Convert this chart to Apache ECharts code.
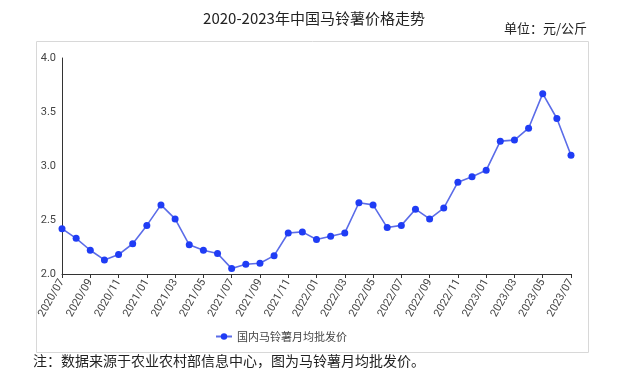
<!DOCTYPE html>
<html>
<head>
<meta charset="utf-8">
<script src="https://cdn.jsdelivr.net/npm/echarts@6/dist/echarts.min.js"></script>
<style>
  html, body { margin: 0; padding: 0; background: #fff; }
  #chart { width: 628px; height: 376px; }
</style>
</head>
<body>
<div id="chart"></div>
<script>
// months 2020/07 .. 2023/07
var months = [
  '2020/07', '2020/08', '2020/09', '2020/10', '2020/11', '2020/12',
  '2021/01', '2021/02', '2021/03', '2021/04', '2021/05', '2021/06',
  '2021/07', '2021/08', '2021/09', '2021/10', '2021/11', '2021/12',
  '2022/01', '2022/02', '2022/03', '2022/04', '2022/05', '2022/06',
  '2022/07', '2022/08', '2022/09', '2022/10', '2022/11', '2022/12',
  '2023/01', '2023/02', '2023/03', '2023/04', '2023/05', '2023/06',
  '2023/07'
];
var prices = [
  2.42, 2.33, 2.22, 2.13, 2.18, 2.28,
  2.45, 2.64, 2.51, 2.27, 2.22, 2.19,
  2.05, 2.09, 2.10, 2.17, 2.38, 2.39,
  2.32, 2.35, 2.38, 2.66, 2.64, 2.43,
  2.45, 2.60, 2.51, 2.61, 2.85, 2.90,
  2.96, 3.23, 3.24, 3.35, 3.67, 3.44,
  3.10
];
var yTicks = [2.0, 2.5, 3.0, 3.5, 4.0];

var titleText = '2020-2023年中国马铃薯价格走势';
var unitText = '单位：元/公斤';
var noteText = '注：数据来源于农业农村部信息中心，图为马铃薯月均批发价。';
var seriesName = '国内马铃薯月均批发价';

var cjk = '"Noto Sans CJK SC", "Noto Sans", sans-serif';

var chart = echarts.init(document.getElementById('chart'));

chart.setOption({
  animation: false,
  title: [
    {
      text: titleText, left: 'center', top: 6,
      textStyle: { fontFamily: cjk, fontSize: 15, fontWeight: 'normal', color: '#222' }
    },
    {
      text: unitText, right: 36, top: 17,
      textStyle: { fontFamily: cjk, fontSize: 13, fontWeight: 'normal', color: '#222' }
    }
  ],
  graphic: [
    {
      type: 'rect', left: 34, top: 39, silent: true,
      shape: { width: 552, height: 311 },
      style: { fill: 'none', stroke: '#d8d8d8', lineWidth: 1 }
    },
    {
      type: 'text', left: 33, top: 354,
      style: { text: noteText, font: '14px ' + cjk, fill: '#222' }
    }
  ],
  legend: {
    left: 210, top: 326,
    itemWidth: 16, itemHeight: 8, itemGap: 6,
    textStyle: { fontFamily: cjk, fontSize: 11, color: '#444' },
    data: [seriesName]
  },
  grid: { left: 62, right: 57, top: 58, bottom: 102, containLabel: false },
  xAxis: {
    type: 'category',
    data: months,
    boundaryGap: false,
    axisLine: { lineStyle: { color: '#333' } },
    axisTick: { show: true, interval: 1, length: 4, lineStyle: { color: '#333' } },
    axisLabel: {
      interval: 1, rotate: 60, margin: 6,
      fontFamily: 'Roboto, sans-serif', fontSize: 11, color: '#444'
    }
  },
  yAxis: {
    type: 'value',
    min: yTicks[0], max: yTicks[yTicks.length - 1], interval: 0.5,
    axisLine: { show: true, lineStyle: { color: '#333' } },
    axisTick: { show: false },
    splitLine: { show: false },
    axisLabel: {
      margin: 6, fontFamily: 'Roboto, sans-serif', fontSize: 11, color: '#444',
      formatter: function (v) { return v.toFixed(1); }
    }
  },
  series: [{
    name: seriesName,
    type: 'line',
    data: prices,
    symbol: 'circle',
    symbolSize: 7,
    lineStyle: { color: '#5b6ce8', width: 1.6 },
    itemStyle: { color: '#1f3cf5' }
  }]
});
</script>
</body>
</html>
